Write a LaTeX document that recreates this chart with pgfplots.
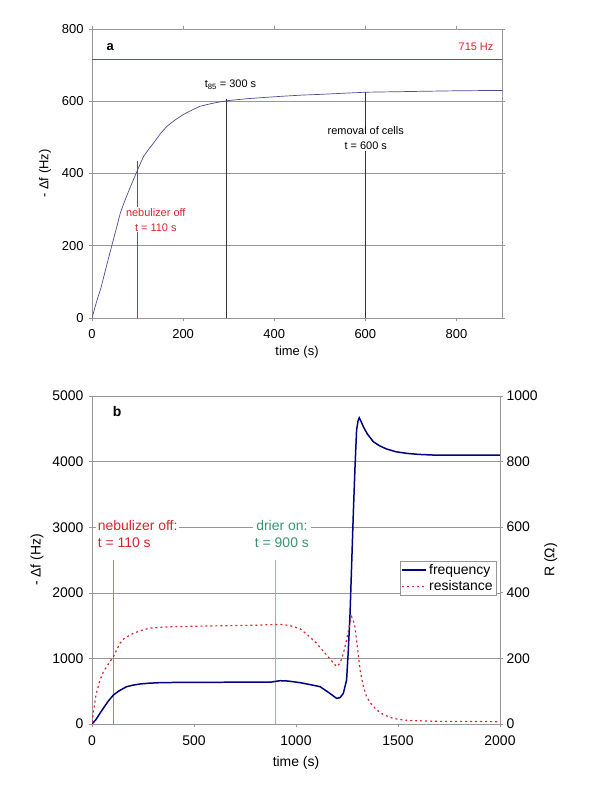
\documentclass[border=0pt]{standalone}
\usepackage{fontspec}
\setmainfont{Liberation Sans}
\usepackage{pgfplots}
\pgfplotsset{compat=1.18}
\definecolor{navyc}{RGB}{0,0,128}
\definecolor{slate}{RGB}{75,75,150}
\definecolor{redc}{RGB}{220,35,45}
\definecolor{colRa}{RGB}{210,40,45}
\definecolor{greenc}{RGB}{55,150,110}
\definecolor{colCy}{RGB}{110,190,215}
\definecolor{colPk}{RGB}{235,100,115}
\definecolor{gridc}{RGB}{150,150,150}
\begin{document}
\begin{tikzpicture}
\useasboundingbox (0,0) rectangle (600bp,800bp);
\pgfplotsset{
  common/.style={
    scale only axis,
    /pgf/number format/assume math mode=true,
    ymajorgrids,
    grid style={gridc, line width=0.6pt},
    axis line style={gridc, line width=0.6pt},
    tick style={gridc, line width=0.6pt},
    tick align=outside,
    major tick length=3bp,
    minor tick num=0,
    scaled ticks=false,
    /pgf/number format/1000 sep={},
    xticklabel style={yshift=-5bp},
    yticklabel style={xshift=-2bp},
  }
}
% ---------- panel a ----------
\begin{axis}[common,
  at={(92bp,482bp)}, anchor=south west,
  width=410bp, height=289bp,
  xmin=0, xmax=900, ymin=0, ymax=800,
  xtick={0,200,400,600,800}, ytick={0,200,400,600,800},
  ticklabel style={font=\fontsize{13}{15}\selectfont},
  label style={font=\fontsize{13}{15}\selectfont},
  xlabel={time (s)}, ylabel={- Δf (Hz)},
  xlabel style={yshift=-1bp},
  ylabel style={yshift=4bp},
]
\addplot[draw=slate, line width=0.7pt] coordinates {
(0,0) (10,45) (20,85) (30,135) (43,198) (55,255) (62,290) (70,318) (80,350)
(90,380) (100,410) (113,447) (125,468) (135,484) (150,510) (164,530) (180,546)
(200,563) (220,576) (237,586) (260,593) (280,598) (300,602) (340,607) (384,611)
(420,614) (460,617) (500,619) (550,622) (600,625) (700,627) (800,629) (900,630)};
\addplot[draw=colRa, line width=1pt] coordinates {(0,715) (900,715)};
\addplot[draw=colRa, line width=1pt] coordinates {(100,0) (100,435)};
\addplot[draw=black!80, line width=0.7pt] coordinates {(296,0) (296,607)};
\addplot[draw=black!80, line width=0.7pt] coordinates {(601,-18) (601,625)};
\node[font=\fontsize{13}{15}\selectfont\bfseries] at (axis cs:40,750) {a};
\node[text=redc, font=\fontsize{11}{13}\selectfont] at (axis cs:843,750) {715 Hz};
\node[font=\fontsize{11}{13}\selectfont] at (axis cs:304,645) {t\textsubscript{85} = 300 s};
\node[fill=white, inner sep=1pt, align=center, font=\fontsize{11}{15}\selectfont] at (axis cs:601,497) {removal of cells\\t = 600 s};
\node[fill=white, inner sep=1pt, align=center, text=redc, font=\fontsize{11}{15}\selectfont] at (axis cs:140,272) {nebulizer off\\t = 110 s};
\end{axis}
% ---------- panel b ----------
\begin{axis}[common,
  at={(92bp,76bp)}, anchor=south west,
  width=408bp, height=328bp,
  xmin=0, xmax=2000, ymin=0, ymax=5000,
  axis x line*=bottom, axis y line*=left,
  xtick={0,500,1000,1500,2000}, ytick={0,1000,2000,3000,4000,5000},
  ticklabel style={font=\fontsize{14}{16}\selectfont},
  label style={font=\fontsize{14}{16}\selectfont},
  xlabel={time (s)}, ylabel={- Δf (Hz)},
  xlabel style={yshift=-4bp},
  ylabel style={yshift=2bp},
]
\addplot[draw=colPk, line width=1pt] coordinates {(105,0) (105,2500)};
\addplot[draw=colCy, line width=1pt] coordinates {(899,0) (899,2500)};
\addplot[draw=navyc, line width=1.5pt] coordinates {
(0,0) (20,70) (39,163) (60,260) (80,350) (105,442) (130,500) (150,535) (170,569)
(200,592) (235,610) (280,622) (333,630) (400,633) (500,635) (600,636) (700,637)
(800,638) (880,640) (921,660) (960,655) (1021,630) (1070,600) (1118,569)
(1160,480) (1199,391) (1215,400) (1232,467) (1248,670) (1256,1100) (1265,1687)
(1273,2450) (1281,3211) (1289,3900) (1297,4481) (1304,4620) (1310,4669)
(1318,4620) (1330,4532) (1350,4420) (1379,4303) (1410,4240) (1444,4192)
(1490,4150) (1542,4126) (1600,4110) (1673,4100) (1800,4100) (2000,4100)};
\node[font=\fontsize{14}{16}\selectfont\bfseries] at (axis cs:123,4771) {b};
\node[fill=white, inner sep=2pt, align=left, anchor=west, text=redc, font=\fontsize{14}{18}\selectfont] at (axis cs:18,2896) {nebulizer off:\\t = 110 s};
\node[fill=white, inner sep=2pt, align=center, text=greenc, font=\fontsize{14}{18}\selectfont] at (axis cs:931,2896) {drier on:\\t = 900 s};
\end{axis}
\begin{axis}[common,
  at={(92bp,76bp)}, anchor=south west,
  width=408bp, height=328bp,
  xmin=0, xmax=2000, ymin=0, ymax=1000,
  ymajorgrids=false,
  axis x line=none, axis y line*=right,
  ytick={0,200,400,600,800,1000},
  yticklabel style={xshift=2bp},
  ticklabel style={font=\fontsize{14}{16}\selectfont},
  label style={font=\fontsize{14}{16}\selectfont},
  ylabel={R (Ω)},
  legend style={at={(axis description cs:0.99,0.497)}, anchor=north east,
    draw=gridc, fill=white, font=\fontsize{14}{16}\selectfont,
    inner sep=1pt, row sep=1pt, cells={anchor=west}},
  legend image code/.code={\draw[#1] (0bp,0bp) -- (24bp,0bp);},
]
\addlegendimage{draw=navyc, line width=1.5pt}
\addlegendentry{frequency}
\addplot[draw=redc, line width=1.2pt, dash pattern=on 2bp off 3bp] coordinates {
(0,5) (10,50) (20,90) (39,134) (55,158) (72,175) (90,192) (105,205) (120,225)
(137,246) (160,262) (201,276) (240,285) (282,292) (340,295) (397,297) (500,298)
(600,299) (691,300) (800,301) (880,303) (921,304) (970,300) (1021,290)
(1060,270) (1101,246) (1150,210) (1199,175) (1216,185) (1232,215) (1248,256)
(1262,300) (1273,327) (1281,315) (1289,297) (1300,240) (1314,165) (1330,115)
(1346,83) (1370,60) (1395,43) (1430,28) (1477,17) (1530,12) (1591,10)
(1700,8) (1800,8) (2000,7)};
\addlegendentry{resistance}
\end{axis}
\end{tikzpicture}
\end{document}
